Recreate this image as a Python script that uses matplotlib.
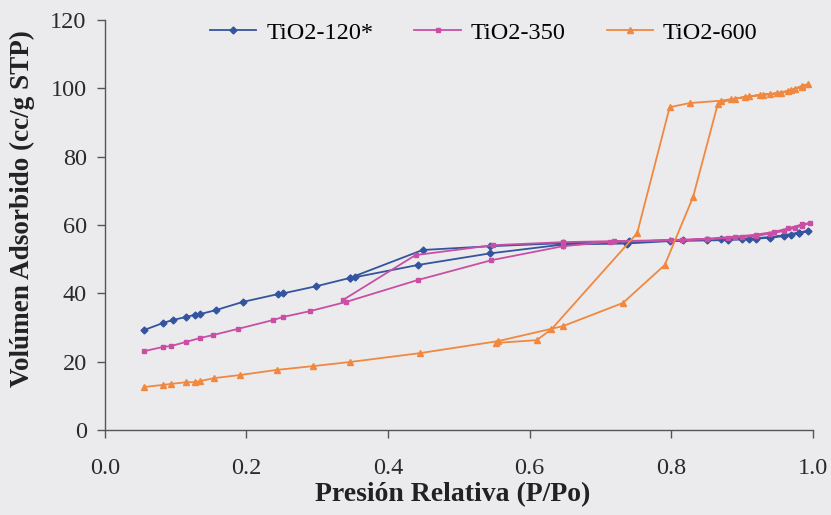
import matplotlib
matplotlib.use("Agg")
import matplotlib.pyplot as plt

# Isotermas de adsorción/desorción de N2 (rama de adsorción seguida de la de desorción)
p_120 = [0.056, 0.082, 0.096, 0.115, 0.127, 0.134, 0.157, 0.195, 0.245, 0.252, 0.299, 0.346, 0.353,
         0.442, 0.544, 0.647, 0.737, 0.798, 0.850, 0.880, 0.900, 0.920, 0.940, 0.960, 0.970, 0.980, 0.993,
         0.980, 0.960, 0.940, 0.910, 0.870, 0.817, 0.740, 0.647, 0.544, 0.449, 0.346]
v_120 = [29.3, 31.3, 32.2, 33.1, 33.7, 33.9, 35.1, 37.5, 39.8, 40.0, 42.1, 44.5, 44.7,
         48.3, 51.7, 54.3, 54.6, 55.3, 55.5, 55.6, 55.8, 56.0, 56.3, 56.8, 57.2, 57.6, 58.3,
         57.8, 57.0, 56.5, 56.0, 55.8, 55.6, 55.2, 54.7, 53.8, 52.7, 44.5]

p_350 = [0.056, 0.082, 0.094, 0.115, 0.134, 0.153, 0.188, 0.238, 0.252, 0.290, 0.341,
         0.442, 0.546, 0.647, 0.713, 0.816, 0.850, 0.880, 0.900, 0.920, 0.940, 0.960, 0.975, 0.985, 0.996,
         0.985, 0.965, 0.945, 0.920, 0.890, 0.850, 0.800, 0.720, 0.647, 0.548, 0.439, 0.336]
v_350 = [23.1, 24.3, 24.6, 25.8, 26.9, 27.8, 29.6, 32.2, 33.1, 34.8, 37.5,
         43.9, 49.7, 53.8, 55.1, 55.6, 55.8, 56.2, 56.5, 56.8, 57.5, 58.3, 59.2, 59.8, 60.6,
         60.2, 59.0, 58.0, 57.2, 56.6, 56.0, 55.6, 55.3, 55.0, 54.1, 51.2, 38.0]

p_600 = [0.056, 0.082, 0.094, 0.115, 0.127, 0.134, 0.155, 0.191, 0.243, 0.294, 0.346, 0.445,
         0.555, 0.647, 0.732, 0.791, 0.831, 0.866, 0.885, 0.905, 0.925, 0.940, 0.955, 0.965, 0.975, 0.985, 0.993,
         0.985, 0.970, 0.950, 0.930, 0.910, 0.890, 0.870, 0.826, 0.798, 0.752, 0.631, 0.610, 0.553]
v_600 = [12.6, 13.2, 13.5, 14.0, 14.0, 14.3, 15.2, 16.1, 17.6, 18.7, 19.9, 22.5,
         26.0, 30.4, 37.2, 48.3, 68.2, 95.5, 96.8, 97.5, 98.0, 98.3, 98.8, 99.2, 99.8, 100.5, 101.2,
         100.8, 99.5, 98.6, 98.2, 97.7, 97.0, 96.4, 95.7, 94.5, 57.6, 29.5, 26.3, 25.5]

series = [
    ("TiO2-120*", p_120, v_120, "#34549e", "D", 3.5),
    ("TiO2-350", p_350, v_350, "#c94fa4", "s", 3.0),
    ("TiO2-600", p_600, v_600, "#f1883f", "^", 4.0),
]

bg = "#ebebed"
fig = plt.figure(figsize=(8.31, 5.15), dpi=100, facecolor=bg)
ax = fig.add_axes([0.126, 0.165, 0.852, 0.796], facecolor=bg)

for nombre, x, y, color, marca, tam in series:
    ax.plot(x, y, color=color, marker=marca, markersize=tam, linewidth=1.3, label=nombre)

ax.set_xlim(0, 1.0)
ax.set_ylim(0, 120)
ax.set_xticks([0.0, 0.2, 0.4, 0.6, 0.8, 1.0])
ax.set_yticks(range(0, 121, 20))
ax.xaxis.set_major_formatter(matplotlib.ticker.FormatStrFormatter("%.1f"))

serif = "Liberation Serif"
for lbl in ax.get_xticklabels() + ax.get_yticklabels():
    lbl.set_fontfamily(serif)
    lbl.set_fontsize(17.5)
    lbl.set_color("#2a2a2a")

ax.tick_params(axis="both", direction="out", length=6, width=1, color="#555555")
ax.tick_params(axis="x", pad=14)
ax.tick_params(axis="y", pad=7)
for lado in ["top", "right"]:
    ax.spines[lado].set_visible(False)
for lado in ["left", "bottom"]:
    ax.spines[lado].set_color("#555555")
    ax.spines[lado].set_linewidth(1.0)

ax.set_xlabel("Presión Relativa (P/Po)", fontfamily=serif, fontweight="bold", fontsize=20,
              color="#222222")
ax.set_ylabel("Volúmen Adsorbido (cc/g STP)", fontfamily=serif, fontweight="bold", fontsize=19.5,
              color="#222222")
ax.xaxis.set_label_coords(0.4915, -0.128)
ax.yaxis.set_label_coords(-0.098, 0.54)

ax.legend(loc="center", bbox_to_anchor=(0.582, 0.936), bbox_transform=fig.transFigure,
          ncol=3, frameon=False, handlelength=1.9, columnspacing=1.7, handletextpad=0.4,
          prop={"family": serif, "size": 17.5})

fig.savefig("out.png", dpi=100, facecolor=bg)
